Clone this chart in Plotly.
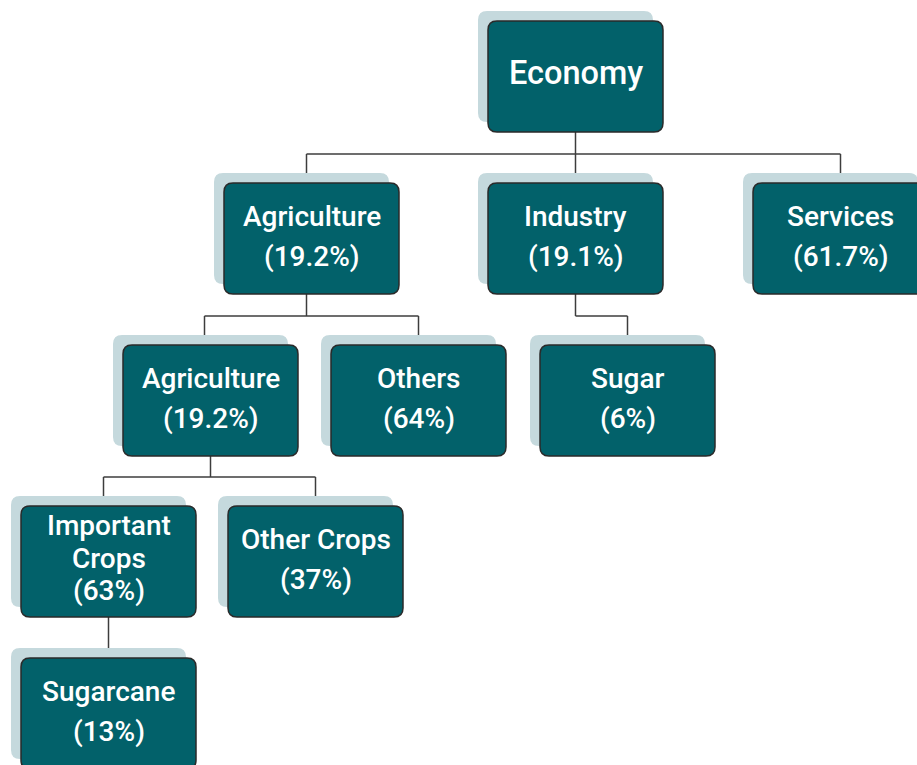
import plotly.graph_objects as go

# ---- data ----
node_ids = ["eco", "agri", "ind", "serv", "agri2", "others", "sugar", "imp", "othcrops", "cane"]
node_labels = ["Economy", "Agriculture", "Industry", "Services", "Agriculture", "Others",
               "Sugar", "Important<br>Crops", "Other Crops", "Sugarcane"]
node_shares = [None, "19.2%", "19.1%", "61.7%", "19.2%", "64%", "6%", "63%", "37%", "13%"]
node_parents = [None, "eco", "eco", "eco", "agri", "agri", "ind", "agri2", "agri2", "imp"]

# ---- layout (pixels, figure coords) ----
W, H = 917, 765
BOX_W, BOX_H = 175, 111
LEVEL_TOP = [21, 183, 345, 506, 658]
box_left = {"eco": 488, "agri": 224, "ind": 488, "serv": 753, "agri2": 123, "others": 331,
            "sugar": 540, "imp": 21, "othcrops": 228, "cane": 21}
line_dx = {"agri": -5, "agri2": -6, "imp": -5}   # connector anchor offsets
level = {}
for nid, par in zip(node_ids, node_parents):
    level[nid] = 0 if par is None else level[par] + 1
BAR_Y = {0: 154, 1: 316, 2: 477}

FILL = "#02616a"
SHADOW = "#c5d9dd"
BORDER = "#2a2a2a"
LINE = "#3d3d3d"

def rrect(x0, y0, x1, y1, r):
    return (f"M {x0+r},{y0} L {x1-r},{y0} Q {x1},{y0} {x1},{y0+r} L {x1},{y1-r} "
            f"Q {x1},{y1} {x1-r},{y1} L {x0+r},{y1} Q {x0},{y1} {x0},{y1-r} "
            f"L {x0},{y0+r} Q {x0},{y0} {x0+r},{y0} Z")

shapes = []
annotations = []

def cx(nid):
    return box_left[nid] + BOX_W / 2

# connectors
children = {}
for nid, par in zip(node_ids, node_parents):
    if par is not None:
        children.setdefault(par, []).append(nid)

for par, kids in children.items():
    lv = level[par]
    pbottom = LEVEL_TOP[lv] + BOX_H
    ctop = LEVEL_TOP[lv + 1]
    px = cx(par) + (line_dx.get(par, 0) if par == "agri" else 0)
    kxs = [cx(k) + line_dx.get(k, 0) for k in kids]
    if len(kids) == 1 and abs(kxs[0] - px) < 1:
        shapes.append(dict(type="line", x0=px, x1=px, y0=pbottom, y1=ctop,
                           line=dict(color=LINE, width=1.5), layer="below"))
        continue
    by = BAR_Y[lv]
    shapes.append(dict(type="line", x0=px, x1=px, y0=pbottom, y1=by,
                       line=dict(color=LINE, width=1.5), layer="below"))
    xs = kxs + [px]
    shapes.append(dict(type="line", x0=min(xs), x1=max(xs), y0=by, y1=by,
                       line=dict(color=LINE, width=1.5), layer="below"))
    for kx in kxs:
        shapes.append(dict(type="line", x0=kx, x1=kx, y0=by, y1=ctop,
                           line=dict(color=LINE, width=1.5), layer="below"))

# boxes
for nid, lab, share in zip(node_ids, node_labels, node_shares):
    x0 = box_left[nid]
    y0 = LEVEL_TOP[level[nid]]
    x1, y1 = x0 + BOX_W, y0 + BOX_H
    shapes.append(dict(type="path", path=rrect(x0 - 10, y0 - 10, x1 - 10, y1 - 10, 9),
                       fillcolor=SHADOW, line=dict(width=0), layer="above"))
    shapes.append(dict(type="path", path=rrect(x0, y0, x1, y1, 9),
                       fillcolor=FILL, line=dict(color=BORDER, width=1.5), layer="above"))
    lines = lab.split("<br>") + ([f"({share})"] if share else [])
    ccx = (x0 + x1) / 2
    ccy = (y0 + y1) / 2
    if len(lines) == 1:
        offs, size = [-4], 32.5
    elif len(lines) == 2:
        offs, size = [-22, 18], 28
    else:
        offs, size = [-36, -3, 29], 28
    for t, o in zip(lines, offs):
        annotations.append(dict(x=ccx, y=ccy + o, text=t, showarrow=False,
                                xanchor="center", yanchor="middle",
                                font=dict(family="Roboto", size=size, color="white",
                                          weight=500)))

fig = go.Figure()
fig.update_layout(
    width=W, height=H,
    margin=dict(l=0, r=0, t=0, b=0),
    paper_bgcolor="white", plot_bgcolor="white",
    xaxis=dict(range=[0, W], visible=False, fixedrange=True),
    yaxis=dict(range=[H, 0], visible=False, fixedrange=True),
    shapes=shapes, annotations=annotations, showlegend=False,
)
fig.write_html("out.html", config={"displayModeBar": False},
               post_script="document.body.style.margin='0';document.body.style.overflow='hidden';")
